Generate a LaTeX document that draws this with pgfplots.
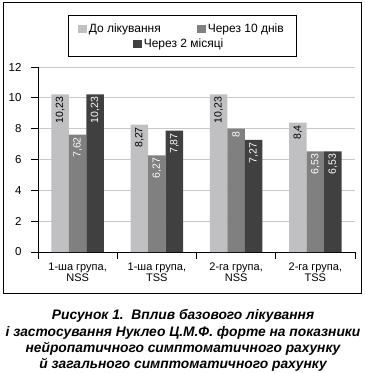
\documentclass[border=0pt]{standalone}
\usepackage{fontspec}
\setmainfont{Liberation Sans}
\usepackage{pgfplots}
\pgfplotsset{compat=1.18}
\definecolor{cLight}{HTML}{C0C0C2}
\definecolor{cMid}{HTML}{808080}
\definecolor{cDark}{HTML}{404040}
\definecolor{cGrid}{HTML}{C8C8C8}
\newcommand{\legfont}{\fontsize{12}{13}\selectfont}
\pgfplotsset{
  legax/.style={
    at={(38pt,121pt)}, anchor=south west,
    scale only axis, width=317pt, height=185pt,
    xmin=-0.5, xmax=3.5, ymin=0, ymax=12, hide axis,
    legend style={draw=none, fill=none, anchor=west, inner sep=0pt, font=\legfont},
    legend image code/.code={\draw[##1,draw=none] (0pt,-4.3pt) rectangle (8.6pt,4.3pt);},
  }
}
\begin{document}
\begin{tikzpicture}[x=1pt,y=1pt]
\useasboundingbox (0,0) rectangle (366,373);
% outer frame
\draw[line width=1pt] (3,79) rectangle (361.5,370);
\begin{axis}[
  at={(38pt,121pt)}, anchor=south west,
  scale only axis, width=317pt, height=185pt,
  xmin=-0.5, xmax=3.5, ymin=0, ymax=12,
  axis x line*=bottom, axis y line*=left,
  axis line style={-, line width=0.8pt},
  ytick={0,2,...,12},
  tick align=outside, major tick length=7pt,
  tick style={black, line width=0.8pt},
  ymajorgrids, grid style={cGrid, line width=0.8pt},
  xtick={-0.5,0.5,1.5,2.5,3.5}, xticklabels={},
  extra x ticks={0,1,2,3},
  extra x tick labels={{1-ша група,\\NSS},{1-ша група,\\TSS},{2-га група,\\NSS},{2-га група,\\TSS}},
  extra x tick style={major tick length=0pt, xticklabel style={align=center, font=\fontsize{11}{11.5}\selectfont, yshift=-7pt}},
  yticklabel style={font=\fontsize{11.5}{12}\selectfont, xshift=-6pt},
  /pgf/number format/assume math mode=true,
  ybar=0pt, bar width=17.5pt,
  point meta=explicit symbolic,
  nodes near coords,
  every node near coord/.append style={rotate=90, anchor=east, font=\fontsize{10.5}{11}\selectfont, inner sep=2.5pt},
]
\addplot[fill=cLight, draw=none, every node near coord/.append style={text=black}] coordinates {(0,10.23) [10,23] (1,8.27) [8,27] (2,10.23) [10,23] (3,8.4) [8,4]};
\addplot[fill=cMid, draw=none, every node near coord/.append style={text=white}] coordinates {(0,7.62) [7,62] (1,6.27) [6,27] (2,8) [8] (3,6.53) [6,53]};
\addplot[fill=cDark, draw=none, every node near coord/.append style={text=white}] coordinates {(0,10.23) [10,23] (1,7.87) [7,87] (2,7.27) [7,27] (3,6.53) [6,53]};
\end{axis}
\begin{axis}[legax, legend style={at={(axis description cs:0.1262,1.205)}}]
\addlegendimage{fill=cLight, draw=none}
\addlegendentry{\legfont До лікування}
\end{axis}
\begin{axis}[legax, legend style={at={(axis description cs:0.5016,1.205)}}]
\addlegendimage{fill=cMid, draw=none}
\addlegendentry{\legfont Через 10 днів}
\end{axis}
\begin{axis}[legax, legend style={at={(axis description cs:0.2997,1.1243)}}]
\addlegendimage{fill=cDark, draw=none}
\addlegendentry{\legfont Через 2 місяці}
\end{axis}
% legend box
\draw[line width=0.8pt] (68,317) rectangle (296,358);
\begin{scope}[every node/.style={anchor=base, inner sep=0pt, font=\fontsize{13.8}{16}\selectfont\bfseries\itshape}]
\node at (183,53) {Рисунок 1.\ \ Вплив базового лікування};
\node at (183,36.5) {і застосування Нуклео Ц.М.Ф. форте на показники};
\node at (183,20.5) {нейропатичного симптоматичного рахунку};
\node at (183,4.5) {й загального симптоматичного рахунку};
\end{scope}
\end{tikzpicture}
\end{document}
